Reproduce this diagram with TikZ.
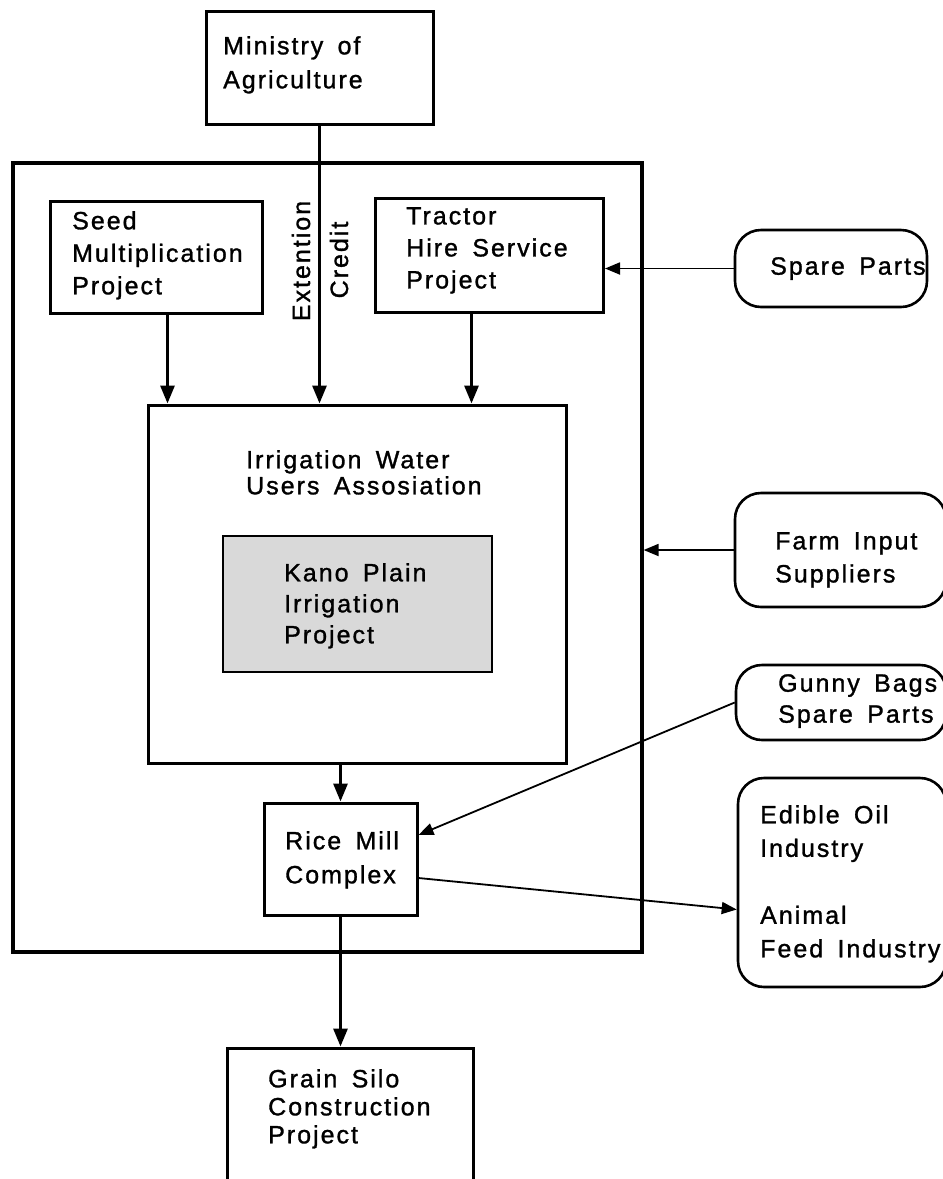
\documentclass[tikz,border=0pt]{standalone}
\usepackage{fontspec}
\setmainfont{Liberation Sans}[LetterSpace=8,WordSpace=1.6,FakeBold=1.2]
\usetikzlibrary{arrows.meta}
\begin{document}
\begin{tikzpicture}[x=1pt,y=-1pt,
  box/.style={draw, line width=3pt, inner sep=0pt},
  rbox/.style={box, rounded corners=26pt, line width=2.6pt},
  lbl/.style={inner sep=0pt, anchor=north west, align=left},
  fa/.style={font=\fontsize{25}{#1}\selectfont},
  thk/.style={line width=3pt, -{Triangle[length=18pt,width=14pt]}},
  thn/.style={line width=1.8pt, -{Triangle[length=15pt,width=12pt]}}]
\useasboundingbox (0,0) rectangle (943,1179);
\fill[white] (0,0) rectangle (943,1179);
\clip (0,0) rectangle (943,1179);

% boxes
\node[box, minimum width=227pt, minimum height=113pt] (min) at (319.5,67.5) {};
\node[box, line width=3.2pt, minimum width=629pt, minimum height=789pt] (outer) at (327.5,557.5) {};
\node[box, minimum width=212pt, minimum height=112pt] (seed) at (156.5,257) {};
\node[box, minimum width=228pt, minimum height=114pt] (tractor) at (489.5,255) {};
\node[box, minimum width=418pt, minimum height=358pt] (iwua) at (357,584) {};
\node[box, line width=2.6pt, fill=black!15, minimum width=269pt, minimum height=136pt] (kano) at (357.5,604) {};
\node[box, minimum width=153pt, minimum height=112pt] (rice) at (340.5,859) {};
\node[box, minimum width=246pt, minimum height=202pt] (grain) at (350,1149) {};
\node[rbox, minimum width=192pt, minimum height=77pt] (spare) at (831,268.5) {};
\node[rbox, minimum width=211pt, minimum height=114pt] (farm) at (840.5,550) {};
\node[rbox, minimum width=210pt, minimum height=75pt] (gunny) at (841,702.5) {};
\node[rbox, minimum width=208pt, minimum height=209pt] (edible) at (842,882.5) {};

% texts
\node[lbl, fa=34] (tmin) at (223,36) {Ministry of\\Agriculture};
\node[lbl, fa=32.5] (tseed) at (72,211) {Seed\\Multiplication\\Project};
\node[lbl, fa=32] (ttractor) at (406,207) {Tractor\\Hire Service\\Project};
\node[lbl, fa=26] (tiwua) at (246,450) {Irrigation Water\\Users Assosiation};
\node[lbl, fa=31] (tkano) at (284,563) {Kano Plain\\Irrigation\\Project};
\node[lbl, fa=34] (trice) at (285,831) {Rice Mill\\Complex};
\node[lbl, fa=28] (tgrain) at (268,1069) {Grain Silo\\Construction\\Project};
\node[lbl, fa=30] (tspare) at (770,257) {Spare Parts};
\node[lbl, fa=33] (tfarm) at (775,532) {Farm Input\\Suppliers};
\node[lbl, fa=31] (tgunny) at (778,674) {Gunny Bags\\Spare Parts};
\node[lbl, fa=33.5] (tedible) at (760,805) {Edible Oil\\Industry\\[33.5pt]Animal\\Feed Industry};
\node[inner sep=0pt, rotate=90, anchor=base, fa=30] (ext) at (310,261) {Extention};
\node[inner sep=0pt, rotate=90, anchor=base, fa=30] (cred) at (348,260) {Credit};

% connectors
\draw[thk] (min.south) -- (min.south |- iwua.north);
\draw[thk] ([xshift=11pt]seed.south) -- ([xshift=11pt]seed.south |- iwua.north);
\draw[thk] ([xshift=-18pt]tractor.south) -- ([xshift=-18pt]tractor.south |- iwua.north);
\draw[thk] (rice.north |- iwua.south) -- (rice.north);
\draw[thk] (rice.south) -- (rice.south |- grain.north);
\draw[thn] (spare.west) -- (spare.west -| tractor.east);
\draw[thn] (farm.west) -- (farm.west -| outer.east);
\draw[thn] (gunny.west) -- ([yshift=24pt]rice.east);
\draw[thn] ([yshift=-19pt]rice.east) -- ([yshift=-27pt]edible.west);
\end{tikzpicture}
\end{document}
